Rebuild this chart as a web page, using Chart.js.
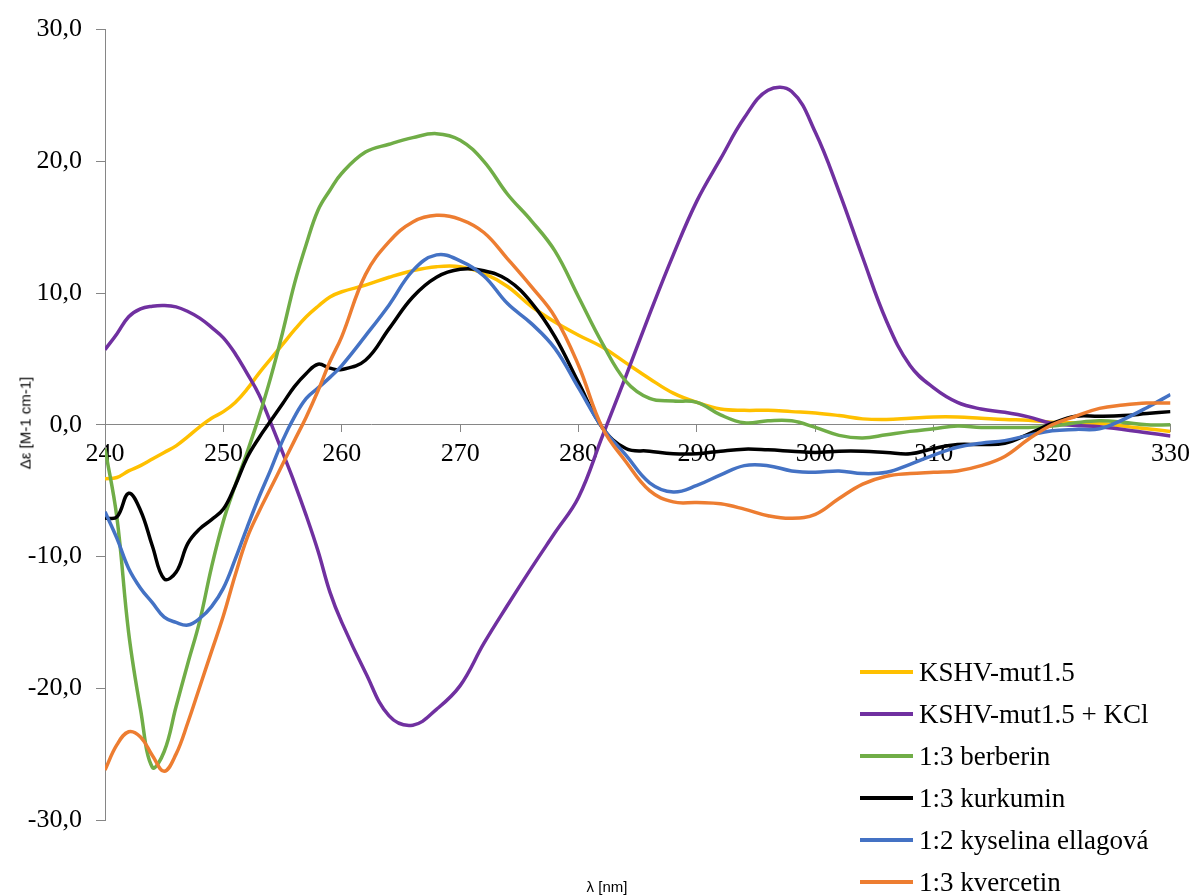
<!DOCTYPE html>
<html>
<head>
<meta charset="utf-8">
<title>CD spektra KSHV-mut1.5</title>
<script src="https://cdn.jsdelivr.net/npm/chart.js@4.4.0/dist/chart.umd.min.js"></script>
<style>
  html, body { margin:0; padding:0; background:#fff; }
  #wrap { position:relative; width:1197px; height:895px; overflow:hidden; }
  #cd { position:absolute; left:0; top:0; }
  .axtitle { position:absolute; font:15px "Liberation Sans", Arial, sans-serif; color:#000; white-space:nowrap; }
  #ytitle { left:25px; top:423px; transform:translate(-50%,-50%) rotate(-90deg); }
  #xtitle { left:607px; top:886px; transform:translate(-50%,-50%); }
  #legend { position:absolute; left:860px; top:651px; font:27px "Liberation Serif", "Times New Roman", serif; color:#000; }
  .row { height:42px; display:flex; align-items:center; white-space:nowrap; }
  .sw { width:53px; height:4px; margin-right:6px; }
</style>
</head>
<body>
<div id="wrap">
  <canvas id="cd" width="1197" height="895"></canvas>
  <div class="axtitle" id="ytitle">Δε [M-1 cm-1]</div>
  <div class="axtitle" id="xtitle">λ [nm]</div>
  <div id="legend"></div>
</div>
<script>
// wavelength grid (nm): 1 nm steps up to 260, then 2 nm
const wavelengths = [240,241,242,243,244,245,246,247,248,249,250,251,252,253,254,255,256,257,258,259,260,
  262,264,266,268,270,272,274,276,278,280,282,284,286,288,290,292,294,296,298,300,
  302,304,306,308,310,312,314,316,318,320,322,324,326,328,330];

const kshv = [-4.1,-4.0,-3.5,-3.1,-2.6,-2.1,-1.6,-0.9,-0.15,0.5,1.0,1.7,2.7,3.9,5.0,6.1,7.2,8.2,9.0,9.7,10.1,
  10.6,11.2,11.7,12.0,12.0,11.5,10.5,9.0,7.8,6.8,5.9,4.7,3.5,2.4,1.7,1.2,1.1,1.1,1.0,0.9,
  0.7,0.45,0.4,0.5,0.6,0.6,0.5,0.4,0.35,0.2,0.15,0.1,-0.1,-0.3,-0.5];

const kshvKCl = [5.7,6.9,8.2,8.8,9.0,9.05,8.95,8.6,8.1,7.4,6.6,5.4,3.9,2.3,0.15,-2.1,-4.4,-6.9,-9.6,-12.7,-15.0,
  -18.8,-22.1,-22.8,-21.6,-19.8,-16.6,-13.7,-10.9,-8.2,-5.5,-0.9,3.7,8.4,12.9,17.0,20.2,23.3,25.4,25.3,22.2,
  17.7,12.7,7.9,4.5,2.8,1.7,1.2,0.95,0.6,0.1,-0.05,-0.15,-0.35,-0.6,-0.85];

const berberin = [-1.8,-7.0,-15.8,-21.6,-26.0,-24.8,-21.4,-18.1,-14.9,-10.8,-7.3,-4.6,-2.1,0.6,3.6,7.0,10.7,13.7,16.3,17.8,19.1,
  20.7,21.3,21.8,22.1,21.6,20.0,17.5,15.5,13.2,9.7,6.2,3.3,2.0,1.8,1.7,0.75,0.15,0.3,0.3,-0.2,
  -0.8,-1.0,-0.75,-0.5,-0.3,-0.1,-0.2,-0.2,-0.2,-0.1,0.15,0.3,0.2,0.0,0.0];

const kurkumin = [-7.1,-7.0,-5.2,-6.5,-9.2,-11.7,-11.2,-9.0,-7.9,-7.2,-6.4,-4.6,-2.5,-1.0,0.3,1.6,2.9,3.9,4.6,4.3,4.2,
  4.9,7.3,9.7,11.2,11.8,11.7,11.0,9.3,6.7,3.2,-0.2,-1.8,-2.0,-2.2,-2.2,-2.0,-1.85,-1.9,-2.0,-2.1,
  -2.0,-2.0,-2.1,-2.2,-1.8,-1.5,-1.5,-1.4,-0.7,0.1,0.65,0.65,0.7,0.85,1.0];

const ellag = [-6.6,-8.6,-10.9,-12.4,-13.5,-14.6,-15.0,-15.2,-14.7,-13.8,-12.4,-10.2,-7.8,-5.5,-3.4,-1.2,0.6,2.0,2.8,3.6,4.5,
  6.75,9.1,11.7,12.9,12.45,11.3,9.2,7.7,5.8,2.8,-0.2,-2.3,-4.4,-5.1,-4.6,-3.8,-3.1,-3.1,-3.5,-3.6,
  -3.5,-3.7,-3.6,-3.0,-2.3,-1.7,-1.4,-1.2,-0.8,-0.45,-0.35,-0.3,0.4,1.3,2.3];

const kvercetin = [-26.2,-24.3,-23.3,-23.7,-25.1,-26.3,-25.0,-22.6,-19.9,-17.2,-14.5,-11.4,-8.6,-6.6,-4.8,-3.0,-1.2,0.6,2.6,4.8,6.7,
  11.4,13.9,15.4,15.9,15.6,14.6,12.6,10.5,8.2,4.5,-0.2,-2.8,-5.0,-5.85,-5.9,-6.0,-6.4,-6.9,-7.1,-6.8,
  -5.6,-4.5,-3.9,-3.7,-3.6,-3.5,-3.1,-2.4,-1.1,0.0,0.65,1.25,1.5,1.65,1.65];

const seriesNames = ['KSHV-mut1.5', 'KSHV-mut1.5 + KCl', '1:3 berberin', '1:3 kurkumin', '1:2 kyselina ellagová', '1:3 kvercetin'];
const seriesColors = ['#FFC000', '#7030A0', '#70AD47', '#000000', '#4472C4', '#ED7D31'];
const seriesValues = [kshv, kshvKCl, berberin, kurkumin, ellag, kvercetin];

const yTicks = [-30, -20, -10, 0, 10, 20, 30];
const xTicks = [240, 250, 260, 270, 280, 290, 300, 310, 320, 330];

const AXIS = '#868686';
const tickFont = { family: '"Liberation Serif", "Times New Roman", serif', size: 26 };

const datasets = seriesValues.map((vals, i) => ({
  label: seriesNames[i],
  data: vals.map((v, j) => ({ x: wavelengths[j], y: v })),
  borderColor: seriesColors[i],
  backgroundColor: seriesColors[i],
  borderWidth: 3.5,
  pointRadius: 0,
  tension: 0.4,
  fill: false,
  order: seriesValues.length - i   // later series on top, like the original
}));

new Chart(document.getElementById('cd'), {
  type: 'line',
  data: { datasets },
  options: {
    responsive: false,
    animation: false,
    layout: { padding: { left: 0, right: 21, top: 24, bottom: 75 } },
    plugins: { legend: { display: false }, tooltip: { enabled: false } },
    scales: {
      x: {
        type: 'linear', min: 240, max: 330,
        position: { y: 0 },
        afterBuildTicks: s => { s.ticks = xTicks.map(v => ({ value: v })); },
        ticks: { color: '#000', font: tickFont, padding: 7, maxRotation: 0, autoSkip: false, callback: v => String(v) },
        grid: { display: true, drawOnChartArea: false, drawTicks: true, tickLength: 7, color: AXIS },
        border: { color: AXIS, width: 1 }
      },
      y: {
        min: -30, max: 30,
        afterBuildTicks: s => { s.ticks = yTicks.map(v => ({ value: v })); },
        afterFit: s => { s.width = 105; },
        ticks: { color: '#000', font: tickFont, padding: 14, callback: v => v.toFixed(1).replace('.', ',') },
        grid: { display: true, drawOnChartArea: false, drawTicks: true, tickLength: 9, color: AXIS },
        border: { color: AXIS, width: 1 }
      }
    }
  }
});

// legend (sits inside the plot area, bottom right)
const lg = document.getElementById('legend');
seriesNames.forEach((name, i) => {
  lg.innerHTML += `<div class="row"><span class="sw" style="background:${seriesColors[i]}"></span>${name}</div>`;
});
</script>
</body>
</html>
